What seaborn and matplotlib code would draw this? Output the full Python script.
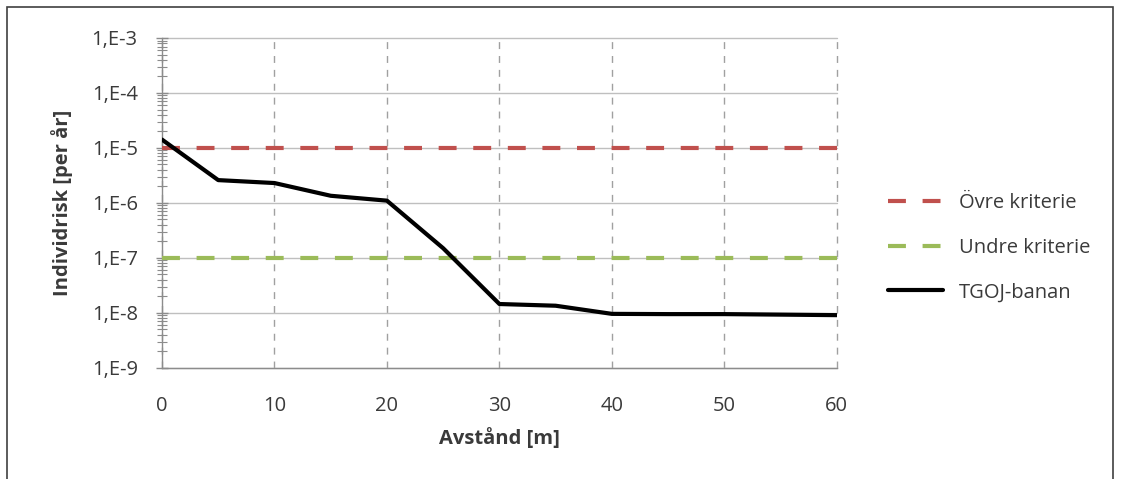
import numpy as np
import pandas as pd
import matplotlib
matplotlib.use("Agg")
import matplotlib.pyplot as plt
import seaborn as sns
from matplotlib.ticker import FuncFormatter, LogLocator, NullFormatter
from matplotlib.patches import Rectangle

distance = [0, 5, 10, 15, 20, 25, 30, 35, 40, 45, 50, 55, 60]
tgoj = [1.42e-5, 2.6e-6, 2.3e-6, 1.35e-6, 1.1e-6, 1.5e-7, 1.45e-8, 1.35e-8, 9.6e-9, 9.5e-9, 9.5e-9, 9.3e-9, 9.1e-9]
ovre_level = 1e-5
undre_level = 1e-7
series_names = ["Övre kriterie", "Undre kriterie", "TGOJ-banan"]
x_label = "Avstånd [m]"
y_label = "Individrisk [per år]"

sns.set_theme(style="white")
plt.rcParams['font.family'] = ['Open Sans', 'DejaVu Sans']

fig = plt.figure(figsize=(11.21, 4.79), dpi=100)
ax = fig.add_axes([0.1445, 0.232, 0.602, 0.6887])

df_ovre = pd.DataFrame({"x": [distance[0], distance[-1]], "y": [ovre_level] * 2})
df_undre = pd.DataFrame({"x": [distance[0], distance[-1]], "y": [undre_level] * 2})
df_t = pd.DataFrame({"x": distance, "y": tgoj})

sns.lineplot(data=df_ovre, x="x", y="y", ax=ax, color="#C0504D", lw=3, label=series_names[0], zorder=3)
sns.lineplot(data=df_undre, x="x", y="y", ax=ax, color="#9BBB59", lw=3, label=series_names[1], zorder=3)
sns.lineplot(data=df_t, x="x", y="y", ax=ax, color="black", lw=3, label=series_names[2], zorder=4)
for ln in ax.lines[:2]:
    ln.set_dashes([4.3, 4.0])
    ln.set_solid_capstyle('butt')

ax.set_yscale("log")
ax.set_ylim(1e-9, 1e-3)
ax.set_xlim(0, 60)
ax.set_xticks([0, 10, 20, 30, 40, 50, 60])
ax.yaxis.set_major_locator(LogLocator(base=10, numticks=20))
ax.yaxis.set_minor_locator(LogLocator(base=10, subs=np.arange(2, 10), numticks=20))
ax.yaxis.set_minor_formatter(NullFormatter())
ax.yaxis.set_major_formatter(FuncFormatter(lambda v, p: "1,E%d" % int(round(np.log10(v)))))

ax.grid(True, which="major", axis="y", color="#BFBFBF", lw=1, ls="-")
ax.grid(True, which="major", axis="x", color="#A0A0A0", lw=1, ls=(0, (5, 5)))
for s in ["top", "right"]:
    ax.spines[s].set_visible(False)
for s in ["left", "bottom"]:
    ax.spines[s].set_color("#8C8C8C")
    ax.spines[s].set_linewidth(1)
fs = 14.5
ax.tick_params(axis="y", which="major", direction="inout", length=9, width=1, color="#8C8C8C", labelsize=fs, pad=13, left=True)
ax.tick_params(axis="y", which="minor", direction="inout", length=7, width=0.8, color="#8C8C8C", left=True)
ax.tick_params(axis="x", which="major", length=0, labelsize=fs, pad=20)
for t in ax.get_xticklabels() + ax.get_yticklabels():
    t.set_color("#3A3A3A")
fig.canvas.draw()
for gl in ax.get_xgridlines() + ax.get_ygridlines():
    gl.set_clip_on(False)

ax.set_xlabel(x_label, fontsize=fs, fontweight="bold", color="#3A3A3A", labelpad=9)
ax.set_ylabel(y_label, fontsize=fs, fontweight="bold", color="#3A3A3A", labelpad=13)

leg = ax.legend(loc="center left", bbox_to_anchor=(1.064, 0.364), frameon=False, fontsize=fs,
                handlelength=2.75, handletextpad=0.75, labelspacing=1.22, borderaxespad=0)
for t in leg.get_texts():
    t.set_color("#3A3A3A")

fig.patches.append(Rectangle((7 / 1121, -0.01), 1106 / 1121, 1 - 7 / 479 + 0.01, transform=fig.transFigure,
                             fill=False, edgecolor="#404040", lw=1.2))

fig.savefig("out.png", dpi=100)
